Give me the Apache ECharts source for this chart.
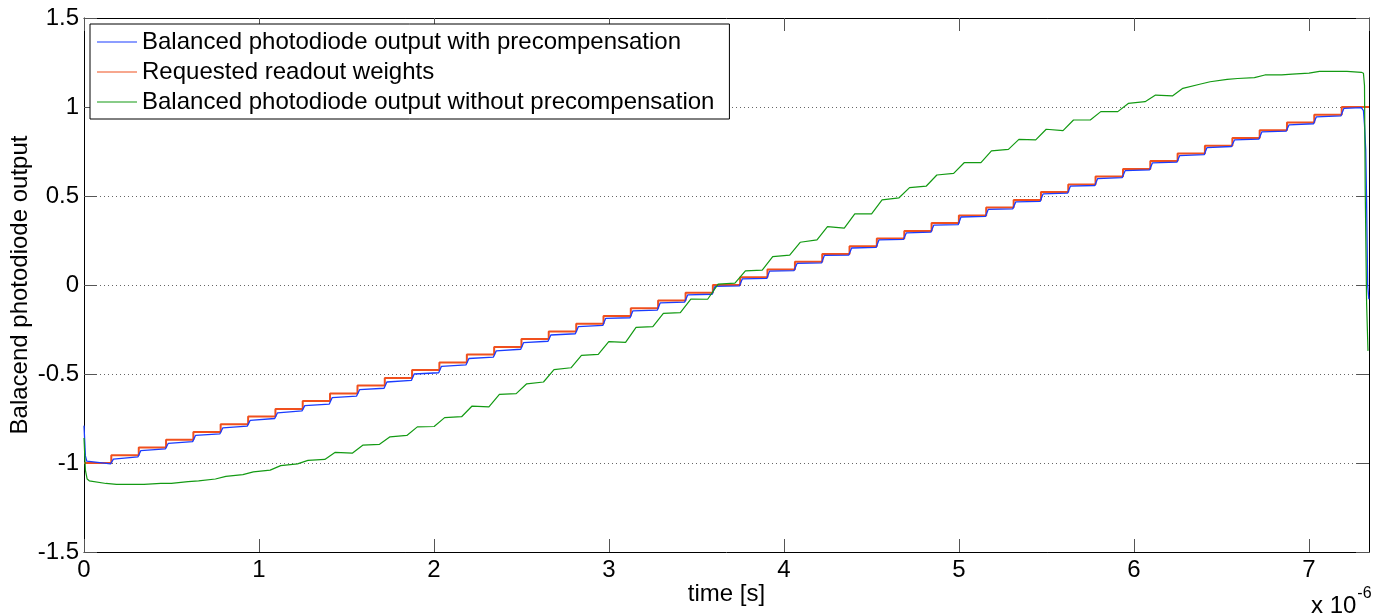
<!DOCTYPE html>
<html>
<head>
<meta charset="utf-8">
<script src="https://cdn.jsdelivr.net/npm/echarts@6/dist/echarts.min.js"></script>
<style>html,body{margin:0;padding:0;background:#fff;}#c{width:1386px;height:616px;}</style>
</head>
<body>
<div id="c"></div>
<script>
// time axis in microseconds (axis shows x 10^-6)
const xTicks = [0, 1, 2, 3, 4, 5, 6, 7];
const yTicks = [-1.5, -1, -0.5, 0, 0.5, 1, 1.5];
const tEnd = 7.34375;
// start time of each plateau of the requested staircase
const levelStart = [0, 0.156, 0.313, 0.469, 0.625, 0.781, 0.938, 1.094, 1.25, 1.406,
  1.563, 1.719, 1.875, 2.031, 2.188, 2.344, 2.5, 2.656, 2.813, 2.969,
  3.125, 3.281, 3.438, 3.594, 3.75, 3.906, 4.063, 4.219, 4.375, 4.531,
  4.688, 4.844, 5.0, 5.156, 5.313, 5.469, 5.625, 5.781, 5.938, 6.094,
  6.25, 6.406, 6.563, 6.719, 6.875, 7.031, 7.188];
// requested readout weights (red)
const redLevels = [-1.000, -0.957, -0.913, -0.870, -0.826, -0.783, -0.739, -0.696, -0.652, -0.609,
  -0.565, -0.522, -0.478, -0.435, -0.391, -0.348, -0.304, -0.261, -0.217, -0.174,
  -0.130, -0.087, -0.043, 0.000, 0.043, 0.087, 0.130, 0.174, 0.217, 0.261,
  0.304, 0.348, 0.391, 0.435, 0.478, 0.522, 0.565, 0.609, 0.652, 0.696,
  0.739, 0.783, 0.826, 0.870, 0.913, 0.957, 1.000];
// with precompensation (blue): value just after each rise and at end of plateau
const blueStart = [-0.990, -0.978, -0.930, -0.890, -0.845, -0.803, -0.760, -0.718, -0.678, -0.633,
  -0.588, -0.545, -0.500, -0.457, -0.413, -0.370, -0.324, -0.281, -0.234, -0.188,
  -0.145, -0.100, -0.056, -0.008, 0.034, 0.078, 0.121, 0.166, 0.208, 0.253,
  0.293, 0.336, 0.382, 0.425, 0.467, 0.512, 0.555, 0.598, 0.642, 0.686,
  0.727, 0.772, 0.815, 0.860, 0.900, 0.945, 0.992];
const blueEnd = [-1.005, -0.966, -0.921, -0.880, -0.836, -0.793, -0.750, -0.707, -0.669, -0.624,
  -0.580, -0.536, -0.493, -0.449, -0.405, -0.361, -0.316, -0.274, -0.227, -0.184,
  -0.141, -0.096, -0.052, -0.005, 0.037, 0.081, 0.124, 0.168, 0.211, 0.256,
  0.297, 0.339, 0.385, 0.428, 0.470, 0.516, 0.559, 0.603, 0.647, 0.690,
  0.732, 0.778, 0.820, 0.865, 0.906, 0.950, 0.996];
const blueHead = [[0, -0.79], [0.008, -0.96]];
const blueTail = [[7.312, 0.98], [7.318, 0.90], [7.325, 0.76], [7.330, 0.47], [7.336, 0.0], [7.343, -0.08]];
// without precompensation (green)
const greenStart = [-1.100, -1.120, -1.120, -1.115, -1.100, -1.075, -1.050, -1.015, -0.985, -0.940,
  -0.900, -0.853, -0.797, -0.745, -0.680, -0.615, -0.555, -0.475, -0.395, -0.318,
  -0.238, -0.159, -0.079, 0.005, 0.079, 0.159, 0.240, 0.328, 0.400, 0.478,
  0.547, 0.618, 0.687, 0.753, 0.818, 0.875, 0.927, 0.974, 1.020, 1.067,
  1.105, 1.142, 1.160, 1.180, 1.185, 1.200, 1.200];
const greenEnd = [-1.115, -1.120, -1.115, -1.105, -1.090, -1.065, -1.040, -1.005, -0.980, -0.945,
  -0.895, -0.845, -0.795, -0.740, -0.685, -0.610, -0.545, -0.465, -0.390, -0.322,
  -0.234, -0.155, -0.080, 0.010, 0.084, 0.168, 0.253, 0.320, 0.400, 0.490,
  0.556, 0.627, 0.687, 0.762, 0.815, 0.867, 0.927, 0.974, 1.030, 1.062,
  1.128, 1.155, 1.165, 1.180, 1.190, 1.200, 1.195];
const greenHead = [[0, -0.86], [0.008, -1.04], [0.018, -1.09]];
const greenTail = [[7.312, 1.19], [7.318, 1.12], [7.322, 0.55], [7.330, -0.10], [7.338, -0.37]];
const lastPlateauEnd = 7.30;

const names = ['Balanced photodiode output with precompensation',
  'Requested readout weights',
  'Balanced photodiode output without precompensation'];

// build series tables
const redData = levelStart.map((t, i) => [t, redLevels[i]]);
redData.push([tEnd, redLevels[redLevels.length - 1]]);

const blueData = blueHead.slice();
levelStart.forEach((t, j) => {
  const last = j === levelStart.length - 1;
  blueData.push([j === 0 ? 0.016 : t + 0.012, blueStart[j]]);
  blueData.push([last ? lastPlateauEnd : t + 0.152, blueEnd[j]]);
});
blueTail.forEach(p => blueData.push(p));

const greenData = greenHead.slice();
levelStart.forEach((t, j) => {
  const last = j === levelStart.length - 1;
  greenData.push([j === 0 ? 0.03 : t + 0.03, greenStart[j]]);
  greenData.push([last ? lastPlateauEnd : levelStart[j + 1] - 0.03, greenEnd[j]]);
});
greenTail.forEach(p => greenData.push(p));

const FONT = "'Liberation Sans', Arial, Helvetica, sans-serif";
const FS = 24;
const chart = echarts.init(document.getElementById('c'), null, {renderer: 'canvas'});
const tickStyle = {show: true, inside: true, length: 13, lineStyle: {color: '#555', width: 1}};
const axLine = {show: true, onZero: false, lineStyle: {color: '#000', width: 1}};
chart.setOption({
  animation: false,
  backgroundColor: '#fff',
  textStyle: {fontFamily: FONT},
  grid: {left: 84, right: 17, top: 18, bottom: 64, containLabel: false, outerBoundsMode: 'none'},
  legend: {
    show: true, orient: 'vertical', left: 90, top: 24,
    padding: [6, 15, 5, 7], itemGap: 6, itemWidth: 40, itemHeight: 1.2,
    icon: 'rect',
    backgroundColor: '#fff', borderColor: '#000', borderWidth: 1, borderRadius: 0,
    textStyle: {fontFamily: FONT, fontSize: FS, color: '#000', lineHeight: 24},
    data: names
  },
  xAxis: [{
    type: 'value', min: 0, max: tEnd, interval: 1,
    axisLine: axLine, axisTick: tickStyle,
    axisLabel: {show: true, margin: 6, fontSize: FS, color: '#000', fontFamily: FONT,
      showMaxLabel: false, formatter: v => xTicks.includes(v) ? String(v) : ''},
    splitLine: {show: false},
    name: 'time [s]', nameLocation: 'middle', nameGap: 30, nameMoveOverlap: false,
    nameTextStyle: {fontSize: FS, color: '#000', fontFamily: FONT}
  }, {
    type: 'value', position: 'top', min: 0, max: tEnd, interval: 1,
    axisLine: axLine, axisTick: tickStyle, axisLabel: {show: false}, splitLine: {show: false}
  }],
  yAxis: [{
    type: 'value', min: -1.5, max: 1.5, interval: 0.5,
    axisLine: axLine, axisTick: tickStyle,
    axisLabel: {show: true, margin: 5, fontSize: FS, color: '#000', fontFamily: FONT,
      formatter: v => yTicks.includes(v) ? String(v) : ''},
    splitLine: {show: true, lineStyle: {type: [1, 3], color: '#666', width: 1}},
    name: 'Balacend photodiode output', nameLocation: 'middle', nameGap: 52, nameMoveOverlap: false,
    nameTextStyle: {fontSize: FS, color: '#000', fontFamily: FONT}
  }, {
    type: 'value', position: 'right', min: -1.5, max: 1.5, interval: 0.5,
    axisLine: axLine, axisTick: tickStyle, axisLabel: {show: false}, splitLine: {show: false}
  }],
  graphic: [{
    type: 'text', left: 1311, top: 586,
    style: {
      text: '{a|x 10}{b|-6}',
      rich: {
        a: {fontSize: FS, fontFamily: FONT, fill: '#000', padding: [8, 0, 0, 0]},
        b: {fontSize: 16, fontFamily: FONT, fill: '#000', verticalAlign: 'top', padding: [0, 0, 10, 1]}
      }
    }
  }],
  series: [{
    name: names[0], type: 'line', data: blueData, symbol: 'none', z: 3,
    lineStyle: {color: '#1a3cff', width: 1.3}, itemStyle: {color: '#1a3cff'}
  }, {
    name: names[1], type: 'line', data: redData, step: 'end', symbol: 'none', z: 2,
    lineStyle: {color: '#f0501e', width: 2}, itemStyle: {color: '#f0501e'}
  }, {
    name: names[2], type: 'line', data: greenData, symbol: 'none', z: 4,
    lineStyle: {color: '#139a13', width: 1.2}, itemStyle: {color: '#139a13'}
  }]
});
</script>
</body>
</html>
